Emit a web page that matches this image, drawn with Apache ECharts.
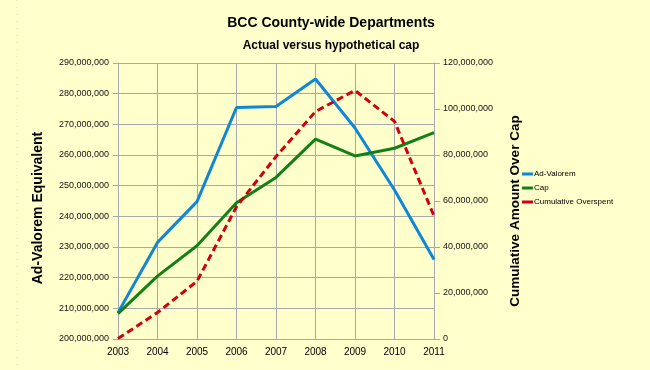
<!DOCTYPE html>
<html><head><meta charset="utf-8">
<script src="https://cdn.jsdelivr.net/npm/echarts@6/dist/echarts.min.js"></script>
<style>html,body{margin:0;padding:0;background:#FFFFCC}#c{width:650px;height:370px}</style>
</head><body><div id="c"></div>
<script>
var years = ['2003','2004','2005','2006','2007','2008','2009','2010','2011'];
var adValorem = [208600000, 231500000, 244800000, 275500000, 275800000, 284800000, 268800000, 248600000, 225900000];
var cap = [208300000, 220500000, 230400000, 244400000, 252700000, 265200000, 259700000, 262200000, 267300000];
var cumulativeOverspent = [200000, 11500000, 25100000, 57500000, 79300000, 98900000, 108100000, 94600000, 53500000];

var fmt = function(v){ return v.toString().replace(/\B(?=(\d{3})+(?!\d))/g, ','); };
var chart = echarts.init(document.getElementById('c'));
var font = 'Liberation Sans, Arial, sans-serif';
chart.setOption({
  backgroundColor: '#FFFFCC',
  animation: false,
  textStyle: {fontFamily: font},
  title: [
    {text: 'BCC County-wide Departments', left: 326, top: 11, textAlign: 'center',
     textStyle: {fontFamily: font, fontSize: 14, fontWeight: 'bold', color: '#000'}},
    {text: 'Actual versus hypothetical cap', left: 326, top: 35, textAlign: 'center',
     textStyle: {fontFamily: font, fontSize: 12, fontWeight: 'bold', color: '#000'}}
  ],
  legend: {
    orient: 'vertical', left: 517, top: 165, itemWidth: 11, itemHeight: 3, itemGap: 6,
    textStyle: {fontFamily: font, fontSize: 8, color: '#000', padding: [0,0,0,-4]},
    data: [
      {name: 'Ad-Valorem', icon: 'rect'},
      {name: 'Cap', icon: 'rect'},
      {name: 'Cumulative Overspent', icon: 'rect'}
    ]
  },
  grid: {left: 118, right: 216, top: 63, bottom: 31},
  xAxis: {
    type: 'category', data: years, boundaryGap: false,
    axisLine: {lineStyle: {color: '#A8A8B0'}},
    axisTick: {show: false},
    axisLabel: {fontSize: 10, color: '#000', margin: 8},
    splitLine: {show: true, lineStyle: {color: '#A8A8B0', width: 1}}
  },
  yAxis: [
    {type: 'value', min: 200000000, max: 290000000, interval: 10000000,
     axisLine: {show: true, lineStyle: {color: '#A8A8B0'}},
     axisTick: {show: true, length: 5, lineStyle: {color: '#A8A8B0'}},
     axisLabel: {fontSize: 9, color: '#111', margin: 9, formatter: fmt},
     splitLine: {show: true, lineStyle: {color: '#A8A8B0', width: 1}}},
    {type: 'value', min: 0, max: 120000000, interval: 20000000,
     axisLine: {show: true, lineStyle: {color: '#A8A8B0'}},
     axisTick: {show: true, length: 6, lineStyle: {color: '#A8A8B0'}},
     axisLabel: {fontSize: 9, color: '#111', margin: 9, formatter: fmt},
     splitLine: {show: false}}
  ],
  series: [
    {name: 'Ad-Valorem', type: 'line', data: adValorem, yAxisIndex: 0, symbol: 'none',
     itemStyle: {color: '#0F87D6'}, lineStyle: {color: '#0F87D6', width: 3}},
    {name: 'Cap', type: 'line', data: cap, yAxisIndex: 0, symbol: 'none',
     itemStyle: {color: '#138013'}, lineStyle: {color: '#138013', width: 3}},
    {name: 'Cumulative Overspent', type: 'line', data: cumulativeOverspent, yAxisIndex: 1, symbol: 'none',
     itemStyle: {color: '#D00010'}, lineStyle: {color: '#D00010', width: 3, type: [7,4]}}
  ],
  graphic: [
    {type: 'line', shape: {x1: 17, y1: 0, x2: 17, y2: 370}, silent: true,
     style: {stroke: '#D8D8C0', lineWidth: 1, lineDash: [1,6]}},
    {type: 'text', x: 38, y: 208, rotation: Math.PI/2, silent: true,
     style: {text: 'Ad-Valorem Equivalent', align: 'center', verticalAlign: 'middle',
             font: 'bold 14px Liberation Sans, Arial, sans-serif', fill: '#000'}},
    {type: 'text', x: 515, y: 211, rotation: Math.PI/2, silent: true,
     style: {text: 'Cumulative Amount Over Cap', align: 'center', verticalAlign: 'middle',
             font: 'bold 13.5px Liberation Sans, Arial, sans-serif', fill: '#000'}}
  ]
});
</script></body></html>
